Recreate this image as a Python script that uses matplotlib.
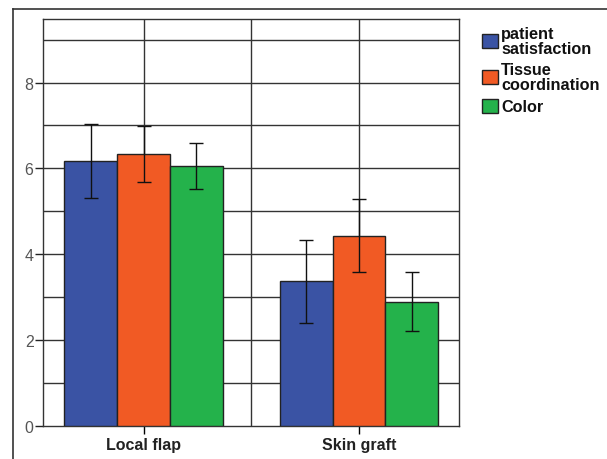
import matplotlib
matplotlib.use("Agg")
import matplotlib.pyplot as plt
from matplotlib.lines import Line2D
import numpy as np

groups = ["Local flap", "Skin graft"]
series = ["patient\nsatisfaction", "Tissue\ncoordination", "Color"]
means = {
    "patient\nsatisfaction": [6.17, 3.37],
    "Tissue\ncoordination": [6.33, 4.43],
    "Color": [6.05, 2.89],
}
errors = {
    "patient\nsatisfaction": [0.86, 0.97],
    "Tissue\ncoordination": [0.66, 0.85],
    "Color": [0.53, 0.69],
}
colors = ["#3A53A4", "#F15A24", "#24B24B"]
yticks = [0, 2, 4, 6, 8]

plt.rcParams['font.family'] = ['Liberation Sans', 'DejaVu Sans']

fig = plt.figure(figsize=(6.07, 4.60), dpi=100)
ax = fig.add_axes([0.0713, 0.0724, 0.6854, 0.8841])

x = np.arange(len(groups))
w = 0.245
for i, s in enumerate(series):
    ax.bar(x + (i - 1) * w, means[s], width=w, color=colors[i], edgecolor="#222222",
           linewidth=1.0, label=s, zorder=3)
    ax.errorbar(x + (i - 1) * w, means[s], yerr=errors[s], fmt="none", ecolor="#111111",
                elinewidth=1.0, capsize=4.7, capthick=1.0, zorder=4)

ax.set_xlim(-0.465, 1.465)
ax.set_ylim(0, 9.48)
ax.set_yticks(yticks)
ax.set_yticks(np.arange(0, 10, 1), minor=True)
ax.tick_params(axis='y', which='minor', length=0)
ax.tick_params(axis='y', which='major', length=6, width=1, colors="#222222",
               labelcolor="#555555", labelsize=11.5, pad=1)
ax.set_xticks(x)
ax.set_xticklabels(groups, fontsize=11.5, fontweight='bold', color="#222222")
ax.tick_params(axis='x', length=6, width=1, pad=2)

for yv in np.arange(1, 10, 1):
    ax.axhline(yv, color="#333333", linewidth=1.0, zorder=1)
for xv in [0, 0.5, 1]:
    ax.axvline(xv, color="#333333", linewidth=1.0, zorder=1)

for sp in ax.spines.values():
    sp.set_color("#333333")
    sp.set_linewidth(1.0)

leg = fig.legend(loc="upper left", bbox_to_anchor=(0.7946, 0.941), frameon=False,
                 fontsize=11.7, handlelength=0.95, handleheight=0.95, handletextpad=0.2,
                 labelspacing=0.42, borderaxespad=0, borderpad=0)
for t in leg.get_texts():
    t.set_fontweight('bold')
    t.set_linespacing(0.95)
    t.set_color("#111111")

# outer frame
fig.add_artist(Line2D([13/607, 13/607], [0, 1 - 10/460], color="#333333", linewidth=1.2,
                      transform=fig.transFigure))
fig.add_artist(Line2D([13/607, 1], [1 - 10/460, 1 - 10/460], color="#333333", linewidth=1.2,
                      transform=fig.transFigure))

fig.savefig("out.png", dpi=100)
